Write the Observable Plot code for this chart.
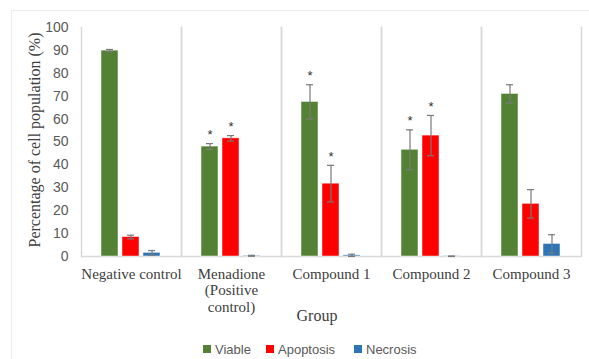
<!DOCTYPE html>
<html>
<head>
<meta charset="utf-8">
<script src="https://cdn.jsdelivr.net/npm/d3@7"></script>
<script src="https://cdn.jsdelivr.net/npm/@observablehq/plot@0.6"></script>
<style>
  html, body { margin: 0; padding: 0; background: #fff; }
  #wrap { position: relative; width: 589px; height: 359px; overflow: hidden; background: #fff; }
  #border { position: absolute; left: 11px; top: 10px; width: 600px; height: 400px; border: 1.5px solid #ececec; box-sizing: border-box; }
  #chart { position: absolute; left: 0; top: 0; }
  #ytitle { position: absolute; left: 35px; top: 140px; transform: translate(-50%, -50%) rotate(-90deg); white-space: nowrap;
    font-family: "Liberation Serif", "Times New Roman", serif; font-size: 16px; color: #404040; }
  #xtitle { position: absolute; left: 317px; top: 316px; transform: translate(-50%, -50%);
    font-family: "Liberation Serif", "Times New Roman", serif; font-size: 16px; color: #404040; }
  #legend { position: absolute; left: 0; width: 589px; top: 340px; height: 18px; font-family: "Liberation Sans", Arial, sans-serif;
    font-size: 13px; color: #595959; }
  .lg { position: absolute; top: 0; display: flex; align-items: center; height: 18px; }
  .sw { width: 8px; height: 8px; margin-right: 4px; }
</style>
</head>
<body>
<div id="wrap">
  <div id="border"></div>
  <div id="chart"></div>
  <div id="ytitle">Percentage of cell population (%)</div>
  <div id="xtitle">Group</div>
  <div id="legend"></div>
</div>
<script>
const groups = ["Negative control", "Menadione (Positive control)", "Compound 1", "Compound 2", "Compound 3"];
const groupLabels = ["Negative control", "Menadione\n(Positive\ncontrol)", "Compound 1", "Compound 2", "Compound 3"];
const series = ["Viable", "Apoptosis", "Necrosis"];
const colors = ["#548235", "#ff0000", "#2e75b6"];

const viable = [89.9, 48.0, 67.5, 46.6, 71.0];
const viableErr = [0.5, 1.3, 7.5, 8.7, 4.0];
const apoptosis = [8.5, 51.6, 31.8, 52.8, 23.0];
const apoptosisErr = [0.8, 1.2, 8.0, 8.8, 6.2];
const necrosis = [1.6, 0.3, 0.5, 0.1, 5.5];
const necrosisErr = [1.0, 0.2, 0.5, 0.1, 4.0];
const viableSig = [false, true, true, true, false];
const apoptosisSig = [false, true, true, true, false];
const necrosisSig = [false, false, false, false, false];

const yTicks = [0, 10, 20, 30, 40, 50, 60, 70, 80, 90, 100];

const values = [viable, apoptosis, necrosis];
const errs = [viableErr, apoptosisErr, necrosisErr];
const sigs = [viableSig, apoptosisSig, necrosisSig];
const data = [];
groups.forEach((g, i) => series.forEach((s, j) => {
  data.push({group: g, series: s, value: values[j][i], err: errs[j][i], sig: sigs[j][i]});
}));

const errColor = "#7a7a7a";
const chart = Plot.plot({
  width: 589,
  height: 330,
  marginLeft: 81,
  marginRight: 8,
  marginTop: 27,
  marginBottom: 74,
  style: {background: "transparent"},
  fx: {domain: groups, padding: 0},
  x: {domain: series, paddingInner: 0.182, paddingOuter: 0.864, axis: null},
  y: {domain: [0, 100], axis: null},
  color: {domain: series, range: colors},
  marks: [
    Plot.frame({anchor: "left", stroke: "#d9d9d9", strokeWidth: 1.5}),
    Plot.frame({anchor: "right", stroke: "#d9d9d9", strokeWidth: 1.5}),
    Plot.ruleY([0], {stroke: "#d9d9d9", strokeWidth: 1.5}),
    Plot.barY(data, {fx: "group", x: "series", y: "value", fill: "series", stroke: "white", strokeOpacity: 0.6, strokeWidth: 0.8}),
    Plot.ruleX(data, {fx: "group", x: "series", y1: d => d.value - d.err, y2: d => d.value + d.err, stroke: errColor, strokeWidth: 1.2}),
    Plot.tickY(data, {fx: "group", x: "series", y: d => d.value + d.err, stroke: errColor, strokeWidth: 1.2, insetLeft: 5, insetRight: 5}),
    Plot.tickY(data, {fx: "group", x: "series", y: d => Math.max(0, d.value - d.err), stroke: errColor, strokeWidth: 1.2, insetLeft: 5, insetRight: 5}),
    Plot.text(data.filter(d => d.sig), {fx: "group", x: "series", y: d => d.value + d.err, text: () => "*", dy: -9,
      fontSize: 13, fill: "#333", fontFamily: "Liberation Sans, Arial, sans-serif", lineAnchor: "middle"}),
    Plot.axisY(yTicks, {tickSize: 0, tickPadding: 13, fontSize: 14, fill: "#595959", fontFamily: "Liberation Sans, Arial, sans-serif", label: null, facetAnchor: "left"}),
    Plot.axisFx({anchor: "bottom", tickSize: 0, tickPadding: 10, fontSize: 15, lineHeight: 1.13, fill: "#404040",
      fontFamily: "Liberation Serif, Times New Roman, serif", label: null,
      tickFormat: g => groupLabels[groups.indexOf(g)]})
  ]
});
document.getElementById("chart").appendChild(chart);

const legend = document.getElementById("legend");
const lefts = [203, 266, 354];
series.forEach((s, j) => {
  const el = document.createElement("div");
  el.className = "lg";
  el.style.left = lefts[j] + "px";
  el.innerHTML = `<div class="sw" style="background:${colors[j]}"></div><span>${s}</span>`;
  legend.appendChild(el);
});
</script>
</body>
</html>
